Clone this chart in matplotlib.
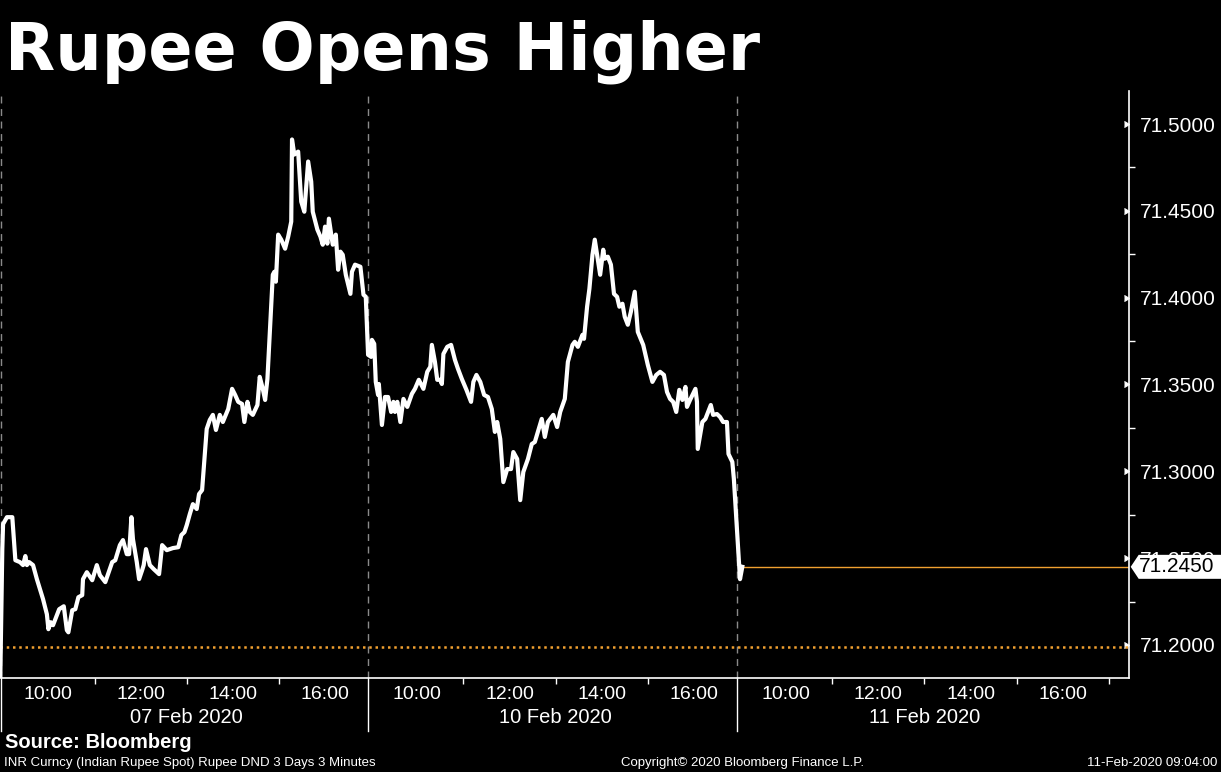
import matplotlib.pyplot as plt
import matplotlib.transforms as mtransforms
from matplotlib.patches import Polygon

# INR spot, 3-minute bars; times are minutes after 09:00 of each session
feb07_minutes = [-3, 0, 1, 6, 13, 17, 23, 27, 30, 32, 35, 40, 45, 53, 58, 60, 63, 66, 74, 80,
                 84, 86, 91, 95, 99, 104, 105, 110, 117, 123, 127, 134, 143, 147, 153, 157,
                 162, 165, 168, 170, 175, 178, 182, 184, 187, 192, 197, 204, 208, 214, 222,
                 229, 233, 237, 240, 244, 248, 253, 256, 260, 266, 270, 274, 278, 283, 287,
                 294, 299, 303, 307, 312, 315, 319, 322, 326, 332, 335, 339, 342, 345, 348,
                 352, 354, 356, 359, 363, 368, 372, 376, 377, 380, 385, 389, 393, 398, 402,
                 404, 410, 414, 417, 420, 423, 425, 428, 430, 434, 437, 440, 443, 447, 453,
                 455, 459, 466, 470, 473, 476]
feb07_rate = [71.1700, 71.2552, 71.2696, 71.2736, 71.2736, 71.2488, 71.2477, 71.2460, 71.2512,
              71.2460, 71.2477, 71.2460, 71.2379, 71.2264, 71.2177, 71.2091, 71.2131, 71.2114,
              71.2206, 71.2223, 71.2085, 71.2073, 71.2200, 71.2206, 71.2275, 71.2287, 71.2379,
              71.2419, 71.2373, 71.2460, 71.2402, 71.2362, 71.2477, 71.2488, 71.2575, 71.2604,
              71.2523, 71.2523, 71.2736, 71.2610, 71.2477, 71.2379, 71.2431, 71.2460, 71.2552,
              71.2460, 71.2437, 71.2408, 71.2575, 71.2546, 71.2558, 71.2563, 71.2633, 71.2650,
              71.2690, 71.2754, 71.2811, 71.2783, 71.2869, 71.2892, 71.3244, 71.3296, 71.3325,
              71.3238, 71.3325, 71.3284, 71.3359, 71.3475, 71.3440, 71.3400, 71.3388, 71.3284,
              71.3400, 71.3342, 71.3325, 71.3382, 71.3544, 71.3475, 71.3411, 71.3532, 71.3786,
              71.4132, 71.4149, 71.4092, 71.4363, 71.4334, 71.4282, 71.4351, 71.4438, 71.4911,
              71.4824, 71.4841, 71.4553, 71.4495, 71.4784, 71.4668, 71.4495, 71.4392, 71.4351,
              71.4305, 71.4409, 71.4311, 71.4455, 71.4363, 71.4305, 71.4363, 71.4161, 71.4265,
              71.4247, 71.4132, 71.4022, 71.4149, 71.4190, 71.4178, 71.4017, 71.4005, 71.3671]

feb10_minutes = [0, 1, 4, 6, 9, 10, 14, 18, 22, 26, 29, 31, 34, 38, 42, 47, 53, 57, 62, 68,
                 73, 77, 79, 83, 86, 90, 92, 94, 99, 104, 109, 113, 118, 124, 130, 133, 137,
                 142, 147, 152, 157, 161, 164, 168, 172, 177, 182, 185, 190, 194, 198, 204,
                 209, 213, 222, 226, 230, 237, 242, 246, 252, 256, 262, 265, 269, 275, 277,
                 281, 284, 288, 291, 294, 298, 302, 304, 308, 312, 316, 320, 323, 327, 330,
                 334, 338, 343, 347, 354, 360, 366, 371, 376, 381, 385, 389, 393, 397, 401,
                 405, 409, 411, 415, 422, 424, 425, 431, 435, 442, 445, 450, 454, 458, 463,
                 465, 470, 472]
feb10_rate = [71.3659, 71.3757, 71.3734, 71.3515, 71.3440, 71.3503, 71.3267, 71.3428, 71.3428,
              71.3342, 71.3400, 71.3342, 71.3400, 71.3284, 71.3417, 71.3371, 71.3446, 71.3475,
              71.3527, 71.3475, 71.3573, 71.3602, 71.3728, 71.3630, 71.3527, 71.3527, 71.3503,
              71.3676, 71.3717, 71.3728, 71.3642, 71.3590, 71.3532, 71.3469, 71.3400, 71.3515,
              71.3555, 71.3515, 71.3440, 71.3428, 71.3359, 71.3227, 71.3284, 71.3186, 71.2938,
              71.3013, 71.3013, 71.3111, 71.3071, 71.2834, 71.2996, 71.3071, 71.3157, 71.3169,
              71.3302, 71.3198, 71.3284, 71.3325, 71.3255, 71.3342, 71.3417, 71.3630, 71.3728,
              71.3746, 71.3717, 71.3786, 71.3763, 71.3948, 71.4051, 71.4247, 71.4334, 71.4247,
              71.4132, 71.4276, 71.4224, 71.4236, 71.4190, 71.4022, 71.4005, 71.3948, 71.3965,
              71.3890, 71.3844, 71.3919, 71.4034, 71.3803, 71.3728, 71.3613, 71.3515, 71.3555,
              71.3573, 71.3555, 71.3457, 71.3417, 71.3400, 71.3342, 71.3469, 71.3411, 71.3486,
              71.3371, 71.3411, 71.3475, 71.3400, 71.3129, 71.3284, 71.3302, 71.3382, 71.3325,
              71.3330, 71.3313, 71.3284, 71.3284, 71.3100, 71.3054, 71.2956]

feb11_minutes = [0, 3]
feb11_rate = [71.2379, 71.2450]

session_dates = ["07 Feb 2020", "10 Feb 2020", "11 Feb 2020"]
hour_labels = ["10:00", "12:00", "14:00", "16:00"]
last_price = 71.2450
ref_level = 71.1987  # dotted orange reference line

FONT = "Liberation Sans"
ORANGE = "#f0a030"

# each session is drawn as 8 hours starting 09:00, sessions side by side
xs, ys = [], []
for d, (mins, vals) in enumerate([(feb07_minutes, feb07_rate),
                                  (feb10_minutes, feb10_rate),
                                  (feb11_minutes, feb11_rate)]):
    xs += [d * 8 + m / 60 for m in mins]
    ys += vals

fig = plt.figure(figsize=(12.21, 7.72), dpi=100, facecolor="black")
ax = fig.add_axes([0.0, 0.1218, 0.9244, 0.7603], facecolor="black")

ax.plot(xs, ys, color="white", lw=3, solid_joinstyle="round", zorder=3)
ax.plot([xs[-1], 24.5], [last_price, last_price], color=ORANGE, lw=1, zorder=2)
ax.axhline(ref_level, color=ORANGE, lw=1.8, ls=(0, (1, 1.5)), zorder=2)

xmin, xmax = -0.05, 24.43
ax.set_xlim(xmin, xmax)
ax.set_ylim(71.181, 71.519)

# session separators
breaks = [xmin + 0.02, 7.94, 15.93]
for b in breaks:
    ax.axvline(b, color="#8a8a8a", lw=1, ls=(0, (5, 4)), zorder=1)
    ax.axvline(b, ymin=-0.09, ymax=0, color="white", lw=1, clip_on=False)

# x axis: even hours labelled, odd hours as small ticks
major = [d * 8 + h - 9 for d in range(3) for h in (10, 12, 14, 16)]
minor = [d * 8 + h - 9 for d in range(3) for h in (11, 13, 15)] + [2 * 8 + 8]
ax.set_xticks(major)
ax.set_xticklabels(hour_labels * 3)
ax.set_xticks(minor, minor=True)
ax.tick_params(axis="x", which="major", length=0, pad=6, colors="white",
               labelsize=14)
ax.tick_params(axis="x", which="minor", length=4, width=1, colors="white")
for lab in ax.get_xticklabels():
    lab.set_fontfamily(FONT)

trans = mtransforms.blended_transform_factory(ax.transData, ax.transAxes)
for d, date in enumerate(session_dates):
    ax.text(d * 8 + 4, -0.068, date, transform=trans, ha="center", va="center",
            color="white", fontsize=14.5, family=FONT)

# right price axis
ax.yaxis.tick_right()
yt = [71.20, 71.25, 71.30, 71.35, 71.40, 71.45, 71.50]
ax.set_yticks(yt)
ax.set_yticklabels([f"{v:.4f}" for v in yt])
ax.set_yticks([v + 0.025 for v in yt[:-1]], minor=True)
ax.tick_params(axis="y", which="major", length=4, pad=4, colors="white", labelsize=15)
ax.tick_params(axis="y", which="minor", length=4, width=1, colors="white")
for t in ax.yaxis.get_major_ticks():
    t.tick2line.set_marker(5)
    t.tick2line.set_markersize(5)
for lab in ax.get_yticklabels():
    lab.set_fontfamily(FONT)

for side in ["top", "left"]:
    ax.spines[side].set_visible(False)
for side in ["right", "bottom"]:
    ax.spines[side].set_color("white")
    ax.spines[side].set_linewidth(1.2)

# last-price tag on the price axis (drawn in pixel space, above the axes)
ytrans = mtransforms.blended_transform_factory(ax.transAxes, ax.transData)
px, py = ytrans.transform((1.0, last_price))
tag = Polygon([(px + 2, py), (px + 10, py + 12), (1221, py + 12), (1221, py - 12),
               (px + 10, py - 12)], closed=True, transform=mtransforms.IdentityTransform(),
              fc="white", ec="none", zorder=10)
fig.patches.append(tag)
fig.text(px + 10.5, py, f"{last_price:.4f}", transform=mtransforms.IdentityTransform(),
         ha="left", va="center", color="black", fontsize=15, family=FONT, zorder=11)

fig.text(0.004, 0.975, "Rupee Opens Higher", color="white", fontsize=47,
         weight="bold", va="top", ha="left", family="DejaVu Sans")
fig.text(0.004, 0.0376, "Source: Bloomberg", color="white", fontsize=14.5,
         weight="bold", va="center", ha="left", family=FONT)
fig.text(0.003, 0.0115, "INR Curncy (Indian Rupee Spot) Rupee DND 3 Days 3 Minutes",
         color="white", fontsize=9.5, va="center", ha="left", family=FONT)
fig.text(0.608, 0.0115, "Copyright\u00a9 2020 Bloomberg Finance L.P.", color="white",
         fontsize=9.5, va="center", ha="center", family=FONT)
fig.text(0.9967, 0.0115, "11-Feb-2020 09:04:00", color="white", fontsize=9.5,
         va="center", ha="right", family=FONT)

fig.savefig("out.png", dpi=100, facecolor="black")
